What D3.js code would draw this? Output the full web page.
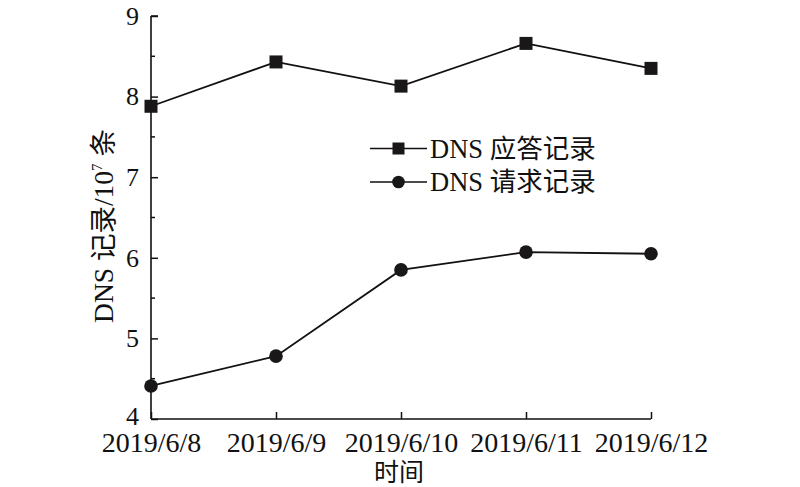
<!DOCTYPE html>
<html><head><meta charset="utf-8">
<script src="https://cdn.jsdelivr.net/npm/d3@7"></script>
<style>body{margin:0;background:#fff;}svg{display:block;}</style>
</head><body>
<script>
const categories = ["2019/6/8","2019/6/9","2019/6/10","2019/6/11","2019/6/12"];
const responseValues = [7.88, 8.43, 8.13, 8.66, 8.35];
const requestValues = [4.41, 4.78, 5.85, 6.07, 6.05];
const yTicks = [4,5,6,7,8,9];
const yMinorTicks = [4.5,5.5,6.5,7.5,8.5];
const seriesNames = ["DNS 应答记录","DNS 请求记录"];

const W=800,H=487;
const serif = "'Liberation Serif','Times New Roman',serif";
const cjk = "'Liberation Serif','Noto Sans CJK SC',serif";
const svg=d3.select("body").append("svg").attr("width",W).attr("height",H);
const x=d3.scalePoint().domain(categories).range([151,651]);
const y=d3.scaleLinear().domain([4,9]).range([419,16]);

const g=svg.append("g");
// y axis
const ya=g.append("g").attr("transform","translate(151,0)")
  .call(d3.axisLeft(y).tickValues(yTicks).tickSize(-7).tickPadding(12).tickFormat(d3.format("d")));
ya.select(".domain").attr("d",`M0,${y(9)}H7M0,${y(9)}V${y(4)}`).attr("stroke","#111").attr("stroke-width",1.6);
ya.selectAll(".tick line").attr("stroke","#111").attr("stroke-width",1.5);
ya.selectAll(".tick text").attr("font-family",serif).attr("font-size",26).attr("fill","#111");
ya.selectAll(".tick text").filter(d=>d===4).attr("dy","0.2em");
g.append("g").attr("transform","translate(151,0)").selectAll("line").data(yMinorTicks).join("line")
  .attr("x1",0).attr("x2",4).attr("y1",d=>y(d)).attr("y2",d=>y(d)).attr("stroke","#111").attr("stroke-width",1.5);
// x axis
const xa=g.append("g").attr("transform","translate(0,419)")
  .call(d3.axisBottom(x).tickSize(-7).tickSizeOuter(0).tickPadding(13));
xa.select(".domain").attr("d",`M${x.range()[0]},0H${x.range()[1]}`).attr("stroke","#111").attr("stroke-width",1.6);
xa.selectAll(".tick line").attr("stroke","#111").attr("stroke-width",1.5);
xa.selectAll(".tick text").attr("font-family",serif).attr("font-size",28).attr("fill","#111");

// lines
const line=d3.line().x((d,i)=>x(categories[i])).y(d=>y(d));
g.append("path").attr("d",line(responseValues)).attr("fill","none").attr("stroke","#111").attr("stroke-width",1.8);
g.append("path").attr("d",line(requestValues)).attr("fill","none").attr("stroke","#111").attr("stroke-width",1.8);
g.selectAll(".sq").data(responseValues).join("rect")
  .attr("x",(d,i)=>x(categories[i])-6.5).attr("y",d=>y(d)-6.5).attr("width",13).attr("height",13).attr("fill","#1a1718");
g.selectAll(".ci").data(requestValues).join("circle")
  .attr("cx",(d,i)=>x(categories[i])).attr("cy",d=>y(d)).attr("r",6.8).attr("fill","#1a1718");

// legend
const lg=svg.append("g");
const legY=[148.5,182];
seriesNames.forEach((n,i)=>{
  lg.append("line").attr("x1",370).attr("x2",427).attr("y1",legY[i]).attr("y2",legY[i]).attr("stroke","#111").attr("stroke-width",1.6);
  if(i===0) lg.append("rect").attr("x",398.5-6).attr("y",legY[i]-6).attr("width",12).attr("height",12).attr("fill","#1a1718");
  else lg.append("circle").attr("cx",398.5).attr("cy",legY[i]).attr("r",6.3).attr("fill","#1a1718");
  lg.append("text").attr("x",430).attr("y",legY[i]+9).attr("font-family",cjk).attr("font-size",26.5).attr("fill","#111").text(n);
});

// axis titles
svg.append("text").attr("x",399).attr("y",481).attr("text-anchor","middle").attr("font-family",cjk).attr("font-size",25).attr("fill","#111").text("时间");
const yt=svg.append("text").attr("transform","translate(113,226) rotate(-90)").attr("text-anchor","middle")
  .attr("font-family",cjk).attr("font-size",27.5).attr("fill","#111");
yt.append("tspan").text("DNS 记录/10");
yt.append("tspan").attr("font-size",15).attr("dy",-11).text("7");
yt.append("tspan").attr("dy",11).text(" 条");
</script>
</body></html>
